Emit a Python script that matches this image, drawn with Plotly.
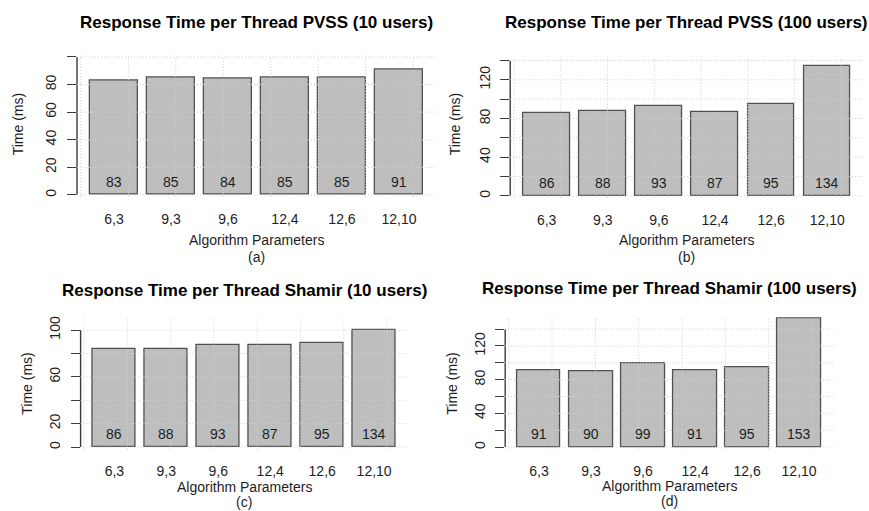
import plotly.graph_objects as go

W, H = 869, 511

# ---------------- data ----------------
categories = ["6,3", "9,3", "9,6", "12,4", "12,6", "12,10"]

pvss_10 = [83, 85, 84, 85, 85, 91]
pvss_100 = [86, 88, 93, 87, 95, 134]
shamir_10 = [84, 84, 87, 87, 89, 100]          # bar heights as drawn
shamir_10_labels = ["86", "88", "93", "87", "95", "134"]  # numbers printed in the bars
shamir_100 = [91, 90, 99, 91, 95, 153]

titles = [
    "Response Time per Thread PVSS (10 users)",
    "Response Time per Thread PVSS (100 users)",
    "Response Time per Thread Shamir (10 users)",
    "Response Time per Thread Shamir (100 users)",
]
subcaptions = ["(a)", "(b)", "(c)", "(d)"]

yticks_a = [0, 20, 40, 60, 80, 100]
ylabels_a = ["0", "20", "40", "60", "80", ""]
yticks_b = [0, 20, 40, 60, 80, 100, 120, 140]
ylabels_b = ["0", "", "40", "", "80", "", "120", ""]
yticks_c = [0, 20, 40, 60, 80, 100]
ylabels_c = ["0", "20", "", "60", "", "100"]
yticks_d = [0, 20, 40, 60, 80, 100, 120, 140]
ylabels_d = ["0", "", "40", "", "80", "", "120", ""]

values = [pvss_10, pvss_100, shamir_10, shamir_100]
bar_labels = [[str(v) for v in pvss_10], [str(v) for v in pvss_100],
              shamir_10_labels, [str(v) for v in shamir_100]]
yticks = [yticks_a, yticks_b, yticks_c, yticks_d]
ylabels = [ylabels_a, ylabels_b, ylabels_c, ylabels_d]

# ---------------- layout geometry (pixels) ----------------
# (left, right, top, bottom, ymin, ymax, title_y, ylabel_x, ylabel_y, xlab_y, cap_y)
panels = [
    (77.0, 436.0, 52.9, 195.1, -1.5, 101.0, 20, 18, 122, 238, 255),
    (510.2, 863.7, 55.35, 195.95, -2.0, 142.5, 20, 455, 122, 238, 255),
    (80.6, 407.9, 317.8, 449.05, -2.0, 109.5, 289, 27, 383, 487, 502),
    (505.2, 832.9, 316.2, 448.4, -2.0, 154.0, 287, 452, 383, 486, 501),
]

FONT = "Liberation Sans, Arial, Helvetica, sans-serif"
BAR_FILL = "#bebebe"
BAR_LINE = "#505050"
GRID = "#d0d0d0"
AXIS = "#3a3a3a"
TEXT = "#1e1e1e"

n = len(categories)
xpos = [0.7 + 1.2 * i for i in range(n)]
xgrid = list(range(0, 8))

fig = go.Figure()
shapes = []
annotations = []
layout = {}

for k in range(4):
    l, r, t, b, ymin, ymax, ty, ylx, yly, xly, capy = panels[k]
    sfx = "" if k == 0 else str(k + 1)
    xa, ya = "x" + sfx, "y" + sfx
    fig.add_trace(go.Bar(
        x=xpos, y=values[k], width=1.0,
        marker=dict(color=BAR_FILL, line=dict(color=BAR_LINE, width=1.3)),
        xaxis=xa, yaxis=ya, showlegend=False, hoverinfo="skip",
    ))
    layout["xaxis" + sfx] = dict(
        domain=[l / W, r / W], range=[-0.08, 7.48], anchor=ya,
        tickmode="array", tickvals=xpos, ticktext=categories,
        ticks="", showgrid=False, zeroline=False, showline=False,
        tickfont=dict(family=FONT, size=14, color=TEXT),
        ticklabelstandoff=12,
    )
    layout["yaxis" + sfx] = dict(
        domain=[1 - b / H, 1 - t / H], range=[ymin, ymax], anchor=xa,
        tickmode="array", tickvals=yticks[k], ticktext=ylabels[k],
        ticks="outside", ticklen=9, tickwidth=1.4, tickcolor=AXIS,
        tickangle=-90, showgrid=False, zeroline=False, showline=False,
        tickfont=dict(family=FONT, size=14, color=TEXT),
        ticklabelstandoff=5,
    )
    # axis line spanning first to last tick (R style)
    shapes.append(dict(type="line", xref=xa + " domain", yref=ya,
                       x0=0, x1=0, y0=yticks[k][0], y1=yticks[k][-1],
                       line=dict(color=AXIS, width=1.4), layer="above"))
    # dotted grid drawn over the bars
    for gy in yticks[k]:
        shapes.append(dict(type="line", xref=xa + " domain", yref=ya,
                           x0=0, x1=1, y0=gy, y1=gy,
                           line=dict(color=GRID, width=1, dash="1px,2px"), layer="above"))
    for gx in xgrid:
        shapes.append(dict(type="line", xref=xa, yref=ya + " domain",
                           x0=gx, x1=gx, y0=0, y1=1,
                           line=dict(color=GRID, width=1, dash="1px,2px"), layer="above"))
    # values inside bars
    for xp, lab in zip(xpos, bar_labels[k]):
        annotations.append(dict(x=xp, y=0, xref=xa, yref=ya, text=lab, showarrow=False,
                                yanchor="middle", yshift=13,
                                font=dict(family=FONT, size=14, color=TEXT)))
    # title
    annotations.append(dict(x=0.5, xref=xa + " domain", y=1 - ty / H, yref="paper",
                            text="<b>" + titles[k] + "</b>", showarrow=False,
                            xanchor="center", yanchor="middle",
                            font=dict(family=FONT, size=17, color="#000000")))
    # y-axis title
    annotations.append(dict(x=ylx / W, xref="paper", y=1 - yly / H, yref="paper",
                            text="Time (ms)", textangle=-90, showarrow=False,
                            xanchor="center", yanchor="middle",
                            font=dict(family=FONT, size=14, color=TEXT)))
    # x-axis title and caption
    annotations.append(dict(x=0.5, xref=xa + " domain", y=1 - xly / H, yref="paper",
                            text="Algorithm Parameters", showarrow=False,
                            xanchor="center", yanchor="middle",
                            font=dict(family=FONT, size=14, color=TEXT)))
    annotations.append(dict(x=0.5, xref=xa + " domain", y=1 - capy / H, yref="paper",
                            text=subcaptions[k], showarrow=False,
                            xanchor="center", yanchor="middle",
                            font=dict(family=FONT, size=14, color=TEXT)))

fig.update_layout(
    width=W, height=H,
    margin=dict(l=0, r=0, t=0, b=0),
    paper_bgcolor="white", plot_bgcolor="white",
    shapes=shapes, annotations=annotations,
    bargap=0, showlegend=False,
    **layout,
)

fig.write_html("out.html",
               config={"displayModeBar": False},
               post_script="document.body.style.margin='0px';document.body.style.padding='0px';")
